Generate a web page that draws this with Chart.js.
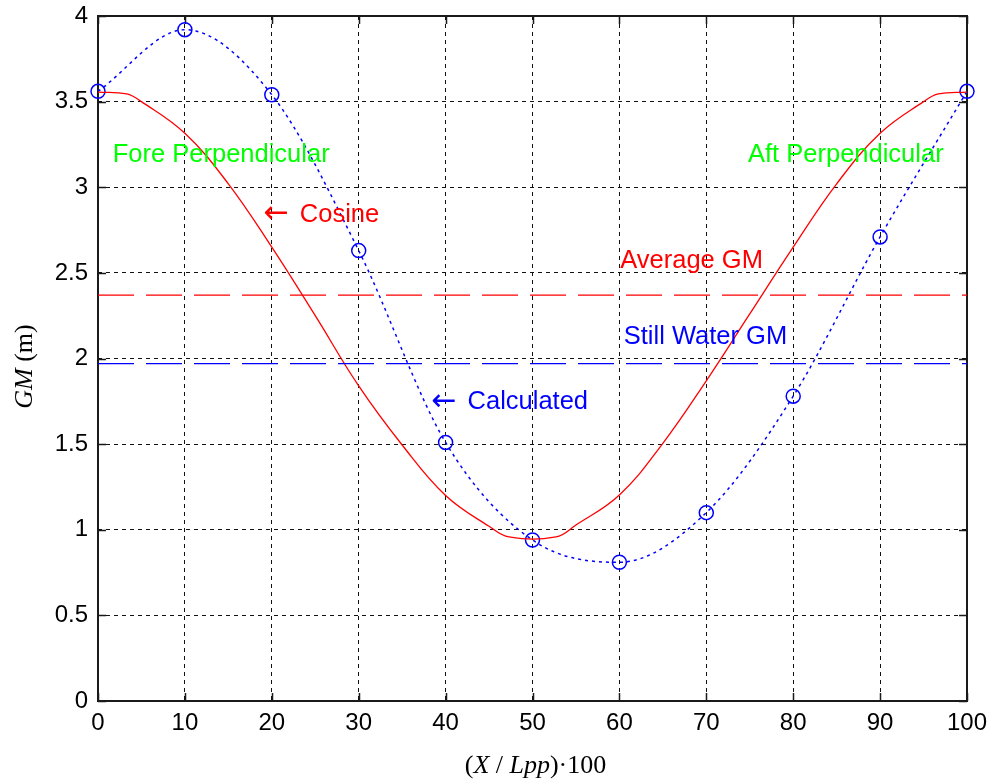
<!DOCTYPE html>
<html>
<head>
<meta charset="utf-8">
<title>GM along the ship</title>
<script src="https://cdn.jsdelivr.net/npm/chart.js@4.4.1/dist/chart.umd.min.js"></script>
<style>
  html, body { margin: 0; padding: 0; background: #fff; }
  #gmChart { display: block; }
</style>
</head>
<body>
<canvas id="gmChart" width="989" height="780"></canvas>
<script>
/* GM along the hull: calculated points vs cosine fit */

// calculated GM (blue circles, dotted spline)
const calcX  = [0, 10, 20, 30, 40, 50, 60, 70, 80, 90, 100];
const calcGM = [3.56, 3.92, 3.54, 2.63, 1.51, 0.94, 0.81, 1.10, 1.78, 2.71, 3.56];

// cosine curve (red solid)
const cosX  = [0, 3.3, 5, 10, 15, 20, 25, 30, 35, 40, 45, 47.3, 52.7, 55, 60, 65, 70, 75, 80, 85, 90, 95, 96.7, 100];
const cosGM = [3.556, 3.545, 3.50, 3.315, 3.02, 2.65, 2.25, 1.84, 1.495, 1.20, 1.02, 0.958, 0.958, 1.028, 1.203, 1.505, 1.87, 2.26, 2.65, 3.02, 3.315, 3.50, 3.545, 3.556];

// reference levels
const averageGM = 2.37;
const stillWaterGM = 1.97;
const xRange = [0, 100];

// axis ticks
const xTickStep = 10;
const yTickStep = 0.5;
const yRange = [0, 4];

// text labels inside the plot (data coordinates, left aligned)
const notes = [
  { text: 'Fore Perpendicular', x: 1.7,  y: 3.19,  color: '#00ff00' },
  { text: 'Aft Perpendicular',  x: 74.8, y: 3.19,  color: '#00ff00' },
  { text: 'Cosine',             x: 19.2, y: 2.84,  color: '#ff0000', arrow: true },
  { text: 'Average GM',         x: 60.1, y: 2.57,  color: '#ff0000' },
  { text: 'Still Water GM',     x: 60.5, y: 2.125, color: '#0000ff' },
  { text: 'Calculated',         x: 38.5, y: 1.746, color: '#0000ff', arrow: true }
];

const pts = (xs, ys) => xs.map((x, i) => ({ x: x, y: ys[i] }));
const flat = (v) => xRange.map(x => ({ x: x, y: v }));

const SANS = '"Liberation Sans", Arial, sans-serif';
const SERIF = '"Liberation Serif", "Times New Roman", serif';

// draw a string made of normal / italic pieces, centred on (0,0)
function drawRich(ctx, parts, size) {
  let total = 0;
  parts.forEach(p => {
    ctx.font = (p.i ? 'italic ' : '') + size + 'px ' + SERIF;
    p.w = ctx.measureText(p.t).width;
    total += p.w;
  });
  let cx = -total / 2;
  parts.forEach(p => {
    ctx.font = (p.i ? 'italic ' : '') + size + 'px ' + SERIF;
    ctx.fillText(p.t, cx, 0);
    cx += p.w;
  });
}

/* box + inward ticks, like a matlab axes */
const boxPlugin = {
  id: 'boxPlugin',
  beforeDatasetsDraw(chart) {
    const { ctx, chartArea: a, scales: { x, y } } = chart;
    ctx.save();
    ctx.strokeStyle = '#1a1a1a';
    ctx.lineWidth = 2;
    ctx.strokeRect(a.left, a.top, a.right - a.left, a.bottom - a.top);
    ctx.beginPath();
    x.ticks.forEach(t => {
      const px = Math.round(x.getPixelForValue(t.value)) + 0.5;
      ctx.moveTo(px, a.bottom); ctx.lineTo(px, a.bottom - 8);
      ctx.moveTo(px, a.top);    ctx.lineTo(px, a.top + 8);
    });
    y.ticks.forEach(t => {
      const py = Math.round(y.getPixelForValue(t.value)) + 0.5;
      ctx.moveTo(a.left, py);  ctx.lineTo(a.left + 8, py);
      ctx.moveTo(a.right, py); ctx.lineTo(a.right - 8, py);
    });
    ctx.lineWidth = 1.5;
    ctx.stroke();
    ctx.restore();
  },
  afterDatasetsDraw(chart) {
    const { ctx, scales: { x, y } } = chart;
    ctx.save();
    ctx.textAlign = 'left';
    ctx.textBaseline = 'middle';
    notes.forEach(n => {
      let px = x.getPixelForValue(n.x);
      const py = y.getPixelForValue(n.y);
      ctx.fillStyle = n.color;
      if (n.arrow) {
        ctx.font = '30px "DejaVu Sans", sans-serif';
        ctx.fillText('\u2190', px - 1, py);
        px += 35;
      }
      ctx.font = '25.5px ' + SANS;
      ctx.fillText(n.text, px, py);
    });
    ctx.restore();
  },
  afterDraw(chart) {
    const { ctx, chartArea: a } = chart;
    ctx.save();
    ctx.fillStyle = '#000';
    ctx.textBaseline = 'alphabetic';
    // x title
    ctx.save();
    ctx.translate((a.left + a.right) / 2 + 3, 773);
    drawRich(ctx, [{ t: '(' }, { t: 'X', i: true }, { t: ' / ' }, { t: 'Lpp', i: true }, { t: ')\u00b7100' }], 26);
    ctx.restore();
    // y title
    ctx.save();
    ctx.translate(32, (a.top + a.bottom) / 2 + 8);
    ctx.rotate(-Math.PI / 2);
    drawRich(ctx, [{ t: 'GM', i: true }, { t: ' (m)' }], 26);
    ctx.restore();
    ctx.restore();
  }
};

function renderGMChart() {
  const el = document.getElementById('gmChart');
  new Chart(el, {
    type: 'line',
    data: {
      datasets: [
        {
          label: 'Average GM',
          data: flat(averageGM),
          borderColor: '#ff0000', borderWidth: 1.4,
          borderDash: [36, 12],
          pointRadius: 0, fill: false
        },
        {
          label: 'Still Water GM',
          data: flat(stillWaterGM),
          borderColor: '#0000ff', borderWidth: 1.4,
          borderDash: [36, 12],
          pointRadius: 0, fill: false
        },
        {
          label: 'Cosine',
          data: pts(cosX, cosGM),
          borderColor: '#ff0000', borderWidth: 1.3,
          tension: 0.4,
          pointRadius: 0, fill: false
        },
        {
          label: 'Calculated',
          data: pts(calcX, calcGM),
          borderColor: '#0000ff', borderWidth: 1.5,
          borderDash: [3, 4],
          cubicInterpolationMode: 'monotone',
          pointStyle: 'circle', pointRadius: 7,
          pointBorderWidth: 1.5,
          pointBorderColor: '#0000ff',
          pointBackgroundColor: 'rgba(0,0,0,0)',
          fill: false, clip: false
        }
      ]
    },
    options: {
      responsive: false,
      animation: false,
      events: [],
      layout: { padding: { left: 0, top: 16, right: 22, bottom: 0 } },
      plugins: { legend: { display: false }, tooltip: { enabled: false } },
      scales: {
        x: {
          type: 'linear', min: xRange[0], max: xRange[1],
          ticks: { stepSize: xTickStep, color: '#000', padding: 8, maxRotation: 0,
                   font: { family: SANS, size: 24 } },
          grid: { color: '#111', lineWidth: 1, drawTicks: false },
          border: { display: false, dash: [4, 4] },
          afterFit: s => { s.height = 79; s.paddingLeft = 0; s.paddingRight = 0; }
        },
        y: {
          type: 'linear', min: yRange[0], max: yRange[1],
          ticks: { stepSize: yTickStep, color: '#000', padding: 10,
                   font: { family: SANS, size: 24 },
                   callback: v => String(+v.toFixed(1)) },
          grid: { color: '#111', lineWidth: 1, drawTicks: false },
          border: { display: false, dash: [4, 4] },
          afterFit: s => { s.width = 98; s.paddingTop = 0; s.paddingBottom = 0; }
        }
      }
    },
    plugins: [boxPlugin]
  });
}

document.addEventListener('DOMContentLoaded', function(){
  if(typeof Chart !== 'undefined') renderGMChart();
});
</script>
</body>
</html>
